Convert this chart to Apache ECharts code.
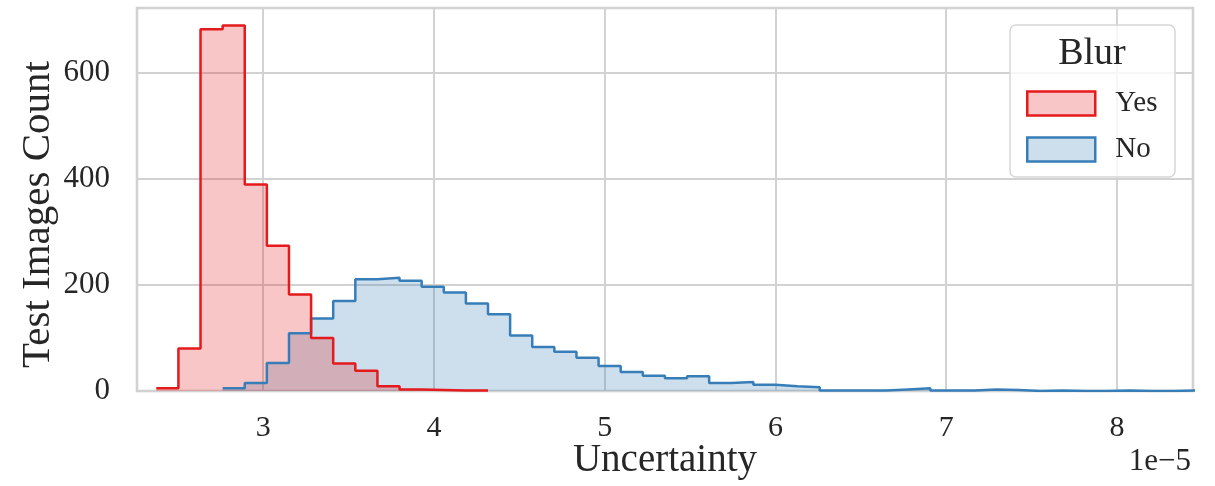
<!DOCTYPE html>
<html>
<head>
<meta charset="utf-8">
<script src="https://cdn.jsdelivr.net/npm/echarts@6/dist/echarts.min.js"></script>
<style>
  html, body { margin: 0; padding: 0; background: #fff; }
  #main { width: 1215px; height: 486px; }
</style>
</head>
<body>
<div id="main"></div>
<script>
    // histogram bins (x in units of 1e-5), shared by both groups
    var binStart = 2.374;
    var binWidth = 0.1295;

    // Blur = Yes, counts from bin 0
    var yesFirstBin = 0;
    var yesCounts = [5, 80, 683, 690, 390, 274, 182, 100, 52, 38, 9, 3, 2, 1, 1];

    // Blur = No, counts from bin 3
    var noFirstBin = 3;
    var noCounts = [5, 15, 53, 109, 137, 170, 211, 214, 208, 197, 186, 165, 145, 105, 83,
        74, 63, 47, 36, 29, 24, 28, 15, 17, 12, 9, 7, 1, 1, 1, 3, 5, 1, 1, 3, 2, 0, 1,
        0, 0, 1, 0, 0, 1];

    var legendNames = ['Yes', 'No'];
    var yTicks = [0, 200, 400, 600];

    var fontFam = '"Liberation Serif", "DejaVu Serif", serif';
    var textCol = '#262626';

    // step points: left edge of every bin, plus the right edge of the last one
    function stepData(firstBin, counts) {
        var pts = [];
        for (var i = 0; i < counts.length; i++) {
            pts.push([binStart + (firstBin + i) * binWidth, counts[i]]);
        }
        pts.push([binStart + (firstBin + counts.length) * binWidth, counts[counts.length - 1]]);
        return pts;
    }

    var myChart = echarts.init(document.getElementById('main'));
    var option = {
        animation: false,
        grid: {
            left: 137,
            right: 22,
            top: 8,
            bottom: 95,
            outerBoundsMode: 'none',
            containLabel: false,
            show: true,
            borderColor: '#cccccc',
            borderWidth: 2.5
        },
        legend: {
            orient: 'vertical',
            left: 1021,
            top: 84,
            itemWidth: 68,
            itemHeight: 24,
            itemGap: 17,
            z: 10,
            textStyle: {
                fontFamily: fontFam,
                fontSize: 29,
                color: textCol,
                padding: [0, 0, 0, 15]
            },
            data: [
                { name: legendNames[0], icon: 'rect', itemStyle: { color: 'rgba(228,26,28,0.25)', borderColor: '#e41a1c', borderWidth: 2.5 } },
                { name: legendNames[1], icon: 'rect', itemStyle: { color: 'rgba(55,126,184,0.25)', borderColor: '#377eb8', borderWidth: 2.5 } }
            ]
        },
        graphic: [
            {
                type: 'rect',
                z: 5,
                shape: { x: 1010, y: 25, width: 165, height: 152, r: 6 },
                style: { fill: 'rgba(255,255,255,0.8)', stroke: '#d6d6d6', lineWidth: 1.5 }
            },
            {
                type: 'text',
                z: 6,
                x: 1092,
                y: 54,
                style: {
                    text: 'Blur',
                    fontFamily: fontFam,
                    fontSize: 38,
                    fill: textCol,
                    align: 'center',
                    verticalAlign: 'middle'
                }
            },
            {
                type: 'text',
                z: 6,
                x: 1191,
                y: 446,
                style: {
                    text: '1e\u22125',
                    fontFamily: fontFam,
                    fontSize: 31,
                    fill: textCol,
                    align: 'right',
                    verticalAlign: 'top'
                }
            }
        ],
        xAxis: {
            type: 'value',
            min: 2.261,
            max: 8.445,
            name: 'Uncertainty',
            nameLocation: 'middle',
            nameGap: 50,
            nameMoveOverlap: false,
            nameTextStyle: { fontFamily: fontFam, fontSize: 39, color: textCol },
            axisLine: { show: false },
            axisTick: { show: false },
            axisLabel: {
                showMinLabel: false,
                showMaxLabel: false,
                margin: 22,
                fontFamily: fontFam,
                fontSize: 30,
                color: textCol
            },
            splitLine: { show: true, lineStyle: { color: '#d2d2d2', width: 2 } }
        },
        yAxis: {
            type: 'value',
            min: 0,
            max: 723,
            interval: yTicks[1] - yTicks[0],
            name: 'Test Images Count',
            nameLocation: 'middle',
            nameGap: 78,
            nameMoveOverlap: false,
            nameTextStyle: { fontFamily: fontFam, fontSize: 41, color: textCol, padding: [0, 30, 0, 0] },
            axisLine: { show: false },
            axisTick: { show: false },
            axisLabel: {
                showMaxLabel: false,
                margin: 27,
                fontFamily: fontFam,
                fontSize: 31,
                color: textCol
            },
            splitLine: { show: true, lineStyle: { color: '#d2d2d2', width: 2 } }
        },
        series: [
            {
                name: 'No',
                type: 'line',
                step: 'end',
                symbol: 'none',
                data: stepData(noFirstBin, noCounts),
                lineStyle: { color: '#377eb8', width: 2.5 },
                itemStyle: { color: '#377eb8' },
                areaStyle: { color: 'rgba(55,126,184,0.25)', opacity: 1 }
            },
            {
                name: 'Yes',
                type: 'line',
                step: 'end',
                symbol: 'none',
                data: stepData(yesFirstBin, yesCounts),
                lineStyle: { color: '#e41a1c', width: 2.5 },
                itemStyle: { color: '#e41a1c' },
                areaStyle: { color: 'rgba(228,26,28,0.25)', opacity: 1 }
            }
        ]
    };
    myChart.setOption(option);

    window.addEventListener('resize', function () {
        myChart.resize();
    });
</script>
</body>
</html>
